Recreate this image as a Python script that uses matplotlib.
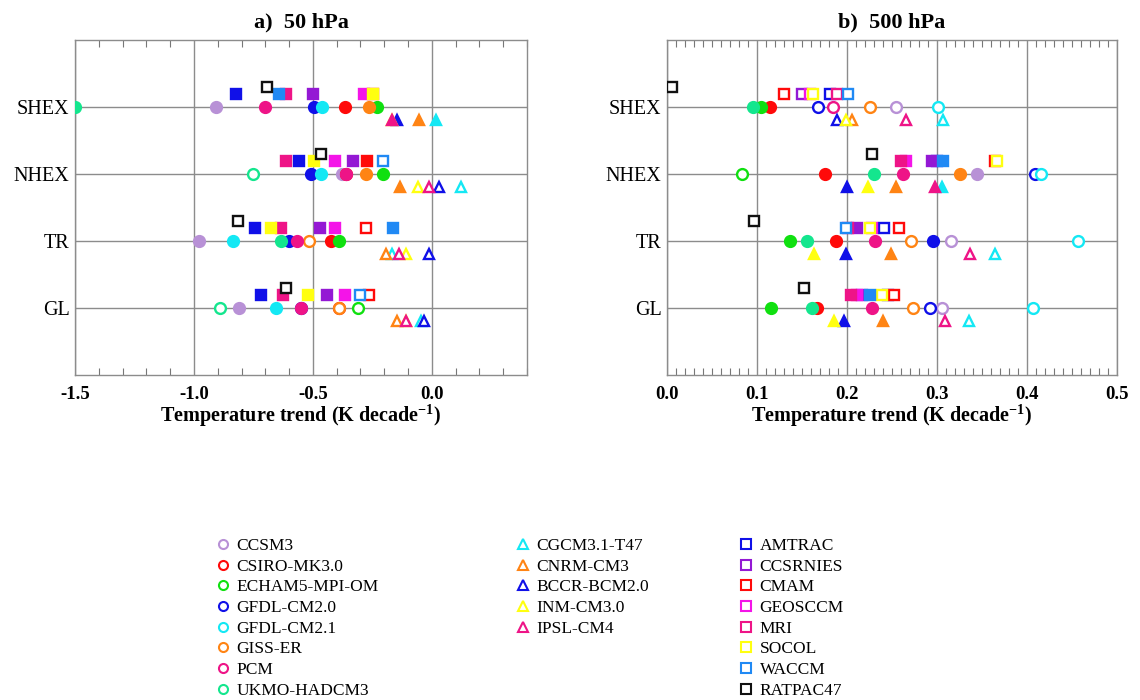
import matplotlib
matplotlib.use("Agg")
import matplotlib.pyplot as plt
from matplotlib.lines import Line2D
from matplotlib.ticker import MultipleLocator

plt.rcParams['font.family'] = ['Liberation Serif', 'DejaVu Serif']
plt.rcParams['axes.unicode_minus'] = False
plt.rcParams['mathtext.fontset'] = 'custom'
plt.rcParams['mathtext.rm'] = 'Liberation Serif'
plt.rcParams['mathtext.bf'] = 'Liberation Serif:bold'
plt.rcParams['mathtext.it'] = 'Liberation Serif:italic'

# ---------------- data ----------------
regions = ['SHEX', 'NHEX', 'TR', 'GL']
region_pos = [4, 3, 2, 1]

circle_models = ['CCSM3', 'CSIRO-MK3.0', 'ECHAM5-MPI-OM', 'GFDL-CM2.0',
                 'GFDL-CM2.1', 'GISS-ER', 'PCM', 'UKMO-HADCM3']
triangle_models = ['CGCM3.1-T47', 'CNRM-CM3', 'BCCR-BCM2.0', 'INM-CM3.0', 'IPSL-CM4']
square_models = ['AMTRAC', 'CCSRNIES', 'CMAM', 'GEOSCCM', 'MRI', 'SOCOL', 'WACCM']
obs_name = 'RATPAC47'

# trends (K/decade) per model, columns = SHEX, NHEX, TR, GL
circles_50 = [
    [-0.906, -0.379, -0.980, -0.812],
    [-0.367, -0.360, -0.423, -0.390],
    [-0.229, -0.205, -0.390, -0.309],
    [-0.496, -0.510, -0.601, -0.549],
    [-0.461, -0.468, -0.836, -0.653],
    [-0.264, -0.278, -0.517, -0.390],
    [-0.700, -0.360, -0.566, -0.549],
    [-1.500, -0.751, -0.636, -0.889],
]
circles_50_filled = [
    [1, 1, 1, 1], [1, 1, 1, 1], [1, 1, 1, 0], [1, 1, 1, 1],
    [1, 1, 1, 1], [1, 1, 0, 0], [1, 1, 1, 1], [1, 0, 1, 0],
]
triangles_50 = [
    [0.017, 0.122, -0.166, -0.046],
    [-0.053, -0.135, -0.194, -0.145],
    [-0.147, 0.028, -0.014, -0.032],
    [-0.168, -0.058, -0.110, -0.110],
    [-0.168, -0.011, -0.138, -0.110],
]
triangles_50_filled = [
    [1, 0, 0, 0], [1, 1, 0, 0], [1, 0, 0, 0], [1, 0, 0, 0], [1, 0, 0, 0],
]
squares_50 = [
    [-0.823, -0.558, -0.742, -0.718],
    [-0.500, -0.332, -0.470, -0.442],
    [-0.247, -0.274, -0.275, -0.264],
    [-0.285, -0.409, -0.405, -0.365],
    [-0.612, -0.615, -0.633, -0.627],
    [-0.247, -0.496, -0.678, -0.521],
    [-0.643, -0.205, -0.163, -0.302],
]
squares_50_filled = [
    [1, 1, 1, 1], [1, 1, 1, 1], [1, 1, 0, 0], [1, 1, 1, 1],
    [1, 1, 1, 1], [1, 1, 1, 1], [1, 0, 1, 0],
]
ratpac_50 = [-0.692, -0.465, -0.816, -0.611]

circles_500 = [
    [0.254, 0.344, 0.315, 0.306],
    [0.114, 0.176, 0.188, 0.167],
    [0.104, 0.083, 0.137, 0.115],
    [0.168, 0.409, 0.296, 0.292],
    [0.301, 0.415, 0.457, 0.407],
    [0.225, 0.325, 0.271, 0.273],
    [0.184, 0.262, 0.231, 0.228],
    [0.096, 0.230, 0.155, 0.161],
]
circles_500_filled = [
    [0, 1, 0, 0], [1, 1, 1, 1], [1, 0, 1, 1], [0, 0, 1, 0],
    [0, 0, 0, 0], [0, 1, 0, 0], [0, 1, 1, 1], [1, 1, 1, 1],
]
triangles_500 = [
    [0.307, 0.306, 0.365, 0.335],
    [0.206, 0.254, 0.249, 0.240],
    [0.189, 0.200, 0.199, 0.197],
    [0.199, 0.223, 0.163, 0.186],
    [0.266, 0.298, 0.337, 0.309],
]
triangles_500_filled = [
    [0, 1, 0, 0], [0, 1, 1, 1], [0, 1, 1, 1], [0, 1, 1, 1], [0, 1, 0, 0],
]
squares_500 = [
    [0.181, 0.300, 0.241, 0.246],
    [0.150, 0.294, 0.211, 0.217],
    [0.130, 0.364, 0.258, 0.252],
    [0.159, 0.265, 0.228, 0.211],
    [0.189, 0.260, 0.201, 0.204],
    [0.162, 0.367, 0.226, 0.239],
    [0.201, 0.307, 0.199, 0.226],
]
squares_500_filled = [
    [0, 1, 0, 0], [0, 1, 1, 1], [0, 0, 0, 0], [0, 1, 0, 1],
    [0, 1, 1, 1], [0, 0, 0, 0], [0, 1, 0, 1],
]
ratpac_500 = [0.006, 0.228, 0.097, 0.152]

# ---------------- styles ----------------
circle_colors = ['#b891d6', '#ff0a0a', '#10e010', '#1010e8', '#14e8f4',
                 '#ff8414', '#ee1487', '#14e68e']
triangle_colors = ['#14e8f4', '#ff8414', '#1010e8', '#ffff10', '#ee1487']
square_colors = ['#1010e8', '#9418d4', '#ff0a0a', '#f414e8', '#ee1487',
                 '#ffff10', '#2089f4']
obs_color = '#111111'

MS = 7.8
MEW = 1.7
OFF_SQ = 0.2
OFF_OBS = 0.3
OFF_TRI = -0.2

W, H = 1140, 700
fig = plt.figure(figsize=(W / 100, H / 100), dpi=100)
ax1 = fig.add_axes([75 / W, 1 - 375 / H, 452 / W, 335 / H])
ax2 = fig.add_axes([667 / W, 1 - 375 / H, 450 / W, 335 / H])


def draw_group(ax, values, filled, colors, marker, offset):
    for vals, fl, col in zip(values, filled, colors):
        for v, f, yp in zip(vals, fl, region_pos):
            ax.plot([v], [yp + offset], linestyle='none', marker=marker,
                    markersize=MS, markeredgewidth=MEW, markeredgecolor=col,
                    markerfacecolor=col if f else 'white', zorder=3)


def setup(ax, xlim, major, minor, title, ticks_fmt):
    ax.set_xlim(*xlim)
    ax.set_ylim(0, 5)
    ax.set_yticks(region_pos)
    ax.set_yticklabels(regions, fontsize=14.5)
    ax.xaxis.set_major_locator(MultipleLocator(major))
    ax.xaxis.set_minor_locator(MultipleLocator(minor))
    ticks = [t for t in ax.get_xticks() if xlim[0] - 1e-9 <= t <= xlim[1] + 1e-9]
    ax.set_xticks(ticks)
    ax.set_xticklabels([ticks_fmt(t) for t in ticks], fontsize=13.5, fontweight='bold')
    ax.tick_params(axis='y', length=0, pad=4)
    ax.tick_params(axis='x', which='major', length=0, pad=8)
    ax.tick_params(axis='x', which='minor', direction='in', length=5,
                   top=True, bottom=True, color='#777777', width=0.8)
    ax.grid(True, axis='both', which='major', color='#8c8c8c', linewidth=1.0, zorder=1)
    ax.set_axisbelow(True)
    for s in ax.spines.values():
        s.set_color('#8c8c8c')
        s.set_linewidth(1.0)
    ax.set_title(title, fontsize=16, fontweight='bold', pad=9)
    ax.set_xlabel('Temperature trend (K decade$^{\\mathbf{-1}}$)', fontsize=14.5,
                  fontweight='bold', labelpad=0)


def fmt(t):
    s = f'{t:.1f}'
    if s == '-0.0':
        s = '0.0'
    return s


for ax, circ, circf, tri, trif, sq, sqf, obs in [
        (ax1, circles_50, circles_50_filled, triangles_50, triangles_50_filled,
         squares_50, squares_50_filled, ratpac_50),
        (ax2, circles_500, circles_500_filled, triangles_500, triangles_500_filled,
         squares_500, squares_500_filled, ratpac_500)]:
    draw_group(ax, circ, circf, circle_colors, 'o', 0.0)
    draw_group(ax, tri, trif, triangle_colors, '^', OFF_TRI)
    draw_group(ax, sq, sqf, square_colors, 's', OFF_SQ)
    draw_group(ax, [obs], [[0, 0, 0, 0]], [obs_color], 's', OFF_OBS)

setup(ax1, (-1.5, 0.4), 0.5, 0.1, 'a)  50 hPa', fmt)
setup(ax2, (0.0, 0.5), 0.1, 0.01, 'b)  500 hPa', fmt)

# ---------------- legend ----------------
def handles(names, colors, marker):
    return [Line2D([], [], linestyle='none', marker=marker, markersize=6.5,
                   markeredgewidth=1.5, markeredgecolor=c, markerfacecolor='none',
                   label=n) for n, c in zip(names, colors)]

leg_cols = [
    (handles(circle_models, circle_colors, 'o'), 215),
    (handles(triangle_models, triangle_colors, '^'), 515),
    (handles(square_models + [obs_name], square_colors + [obs_color], 's'), 738),
]
for hs, x0 in leg_cols:
    fig.legend(handles=hs, loc='upper left', bbox_to_anchor=(x0 / W, 1 - 538 / H),
               frameon=False, fontsize=12.5, handlelength=0.9, handletextpad=0.35,
               labelspacing=0.26, borderpad=0, borderaxespad=0)

fig.savefig('out.png', dpi=100)
